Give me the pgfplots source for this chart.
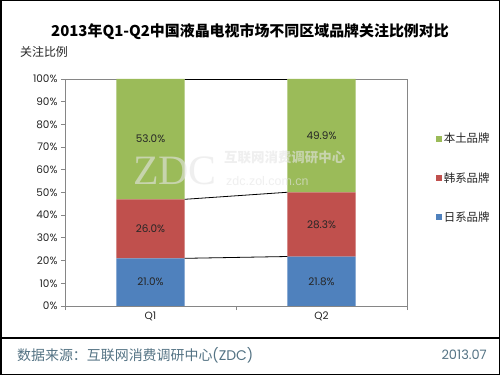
\documentclass[border=0pt]{standalone}
\usepackage{fontspec}
\usepackage{pgfplots}
\pgfplotsset{compat=1.18}
\setmainfont{Poppins}
\newfontfamily\cjk{Noto Sans CJK SC}
\newfontfamily\wmserif{Liberation Serif}
\newfontfamily\wmsans{Liberation Sans}
\definecolor{cgreen}{RGB}{155,187,89}
\definecolor{cred}{RGB}{192,80,77}
\definecolor{cblue}{RGB}{79,129,189}
\definecolor{axgray}{RGB}{134,134,134}
\definecolor{foot}{RGB}{84,115,132}
\begin{document}
\begin{tikzpicture}
\useasboundingbox (0,0) rectangle (500bp,375bp);
\fill[white] (0,0) rectangle (500bp,375bp);
\begin{axis}[
  at={(65bp,69bp)}, anchor=south west, scale only axis,
  width=342bp, height=227bp,
  ybar stacked, bar width=0.4,
  xmin=-0.5, xmax=1.5, ymin=0, ymax=100,
  ytick={0,10,...,100},
  yticklabel={\pgfmathprintnumber{\tick}\%},
  xtick={-0.5,0.5,1.5}, xticklabels={},
  extra x ticks={0,1}, extra x tick labels={Q1,Q2},
  extra x tick style={major tick length=0pt},
  tick align=outside, tick pos=left, major tick length=4bp,
  axis line style={axgray, line width=0.8bp},
  tick style={axgray, line width=0.8bp},
  ticklabel style={font=\fontsize{10.5}{12}\selectfont, text=black!85},
  xticklabel style={yshift=-2bp},
  /pgf/number format/assume math mode=true,
  reverse legend,
  legend cell align=left,
  legend style={at={(1.075,0.564)}, anchor=west, draw=none, fill=none,
    font=\cjk\fontsize{11.5}{13}\selectfont, row sep=24bp, text=black!85},
  legend image code/.code={\fill[#1] (0bp,-3bp) rectangle (6bp,3bp);},
]
\addplot[fill=cblue, draw=none] coordinates {(0,21.0) (1,21.8)};
\addlegendentry{日系品牌}
\addplot[fill=cred, draw=none] coordinates {(0,26.0) (1,28.3)};
\addlegendentry{韩系品牌}
\addplot[fill=cgreen, draw=none] coordinates {(0,53.0) (1,49.9)};
\addlegendentry{本土品牌}
\end{axis}
\begin{axis}[
  at={(65bp,69bp)}, anchor=south west, scale only axis,
  width=342bp, height=227bp,
  xmin=-0.5, xmax=1.5, ymin=0, ymax=100,
  hide axis, clip=false,
]
\addplot[black, line width=0.8bp] coordinates {(0.2,21.0) (0.8,21.8)};
\addplot[black, line width=0.8bp] coordinates {(0.2,47.0) (0.8,50.1)};
\addplot[black, line width=0.8bp] coordinates {(0.2,100) (0.8,100)};
\addplot[draw=none, mark=none, point meta=explicit symbolic,
  nodes near coords={\pgfplotspointmeta\%}, nodes near coords align=center,
  every node near coord/.append style={anchor=center, font=\fontsize{10.5}{12}\selectfont, text=black!85}]
  coordinates {(0,10.5)[21.0] (0,34.0)[26.0] (0,73.5)[53.0]
               (1,10.9)[21.8] (1,35.95)[28.3] (1,75.05)[49.9]};
\end{axis}
% watermark
\node[text=gray!20, opacity=0.6, inner sep=0pt, font=\wmserif\fontsize{42}{42}\selectfont] at (175bp,204bp) {ZDC};
\node[text=gray!20, opacity=0.6, anchor=west, font=\cjk\bfseries\fontsize{13.5}{14}\selectfont, inner sep=0pt] at (224bp,218bp) {互联网消费调研中心};
\node[text=gray!20, opacity=0.6, anchor=west, font=\wmsans\fontsize{12.5}{13}\selectfont, inner sep=0pt] at (226bp,194bp) {zdc.zol.com.cn};
% title and labels
\node[font=\cjk\bfseries\fontsize{15}{17}\selectfont] at (250bp,343bp) {2013年Q1-Q2中国液晶电视市场不同区域品牌关注比例对比};
\node[font=\cjk\fontsize{12}{14}\selectfont, text=black!85] at (44bp,323bp) {关注比例};
% footer
\draw[line width=1.2bp] (0,37bp) -- (500bp,37bp);
\node[anchor=west, text=foot, font=\cjk\fontsize{14}{16}\selectfont, inner sep=0pt] at (17bp,20bp) {数据来源：互联网消费调研中心{\rmfamily (ZDC)}};
\node[anchor=east, text=foot, font=\fontsize{13}{15}\selectfont, inner sep=0pt] at (487bp,20bp) {2013.07};
\draw[line width=1.5bp] (0.75bp,0.75bp) rectangle (499.25bp,374.25bp);
\end{tikzpicture}
\end{document}
